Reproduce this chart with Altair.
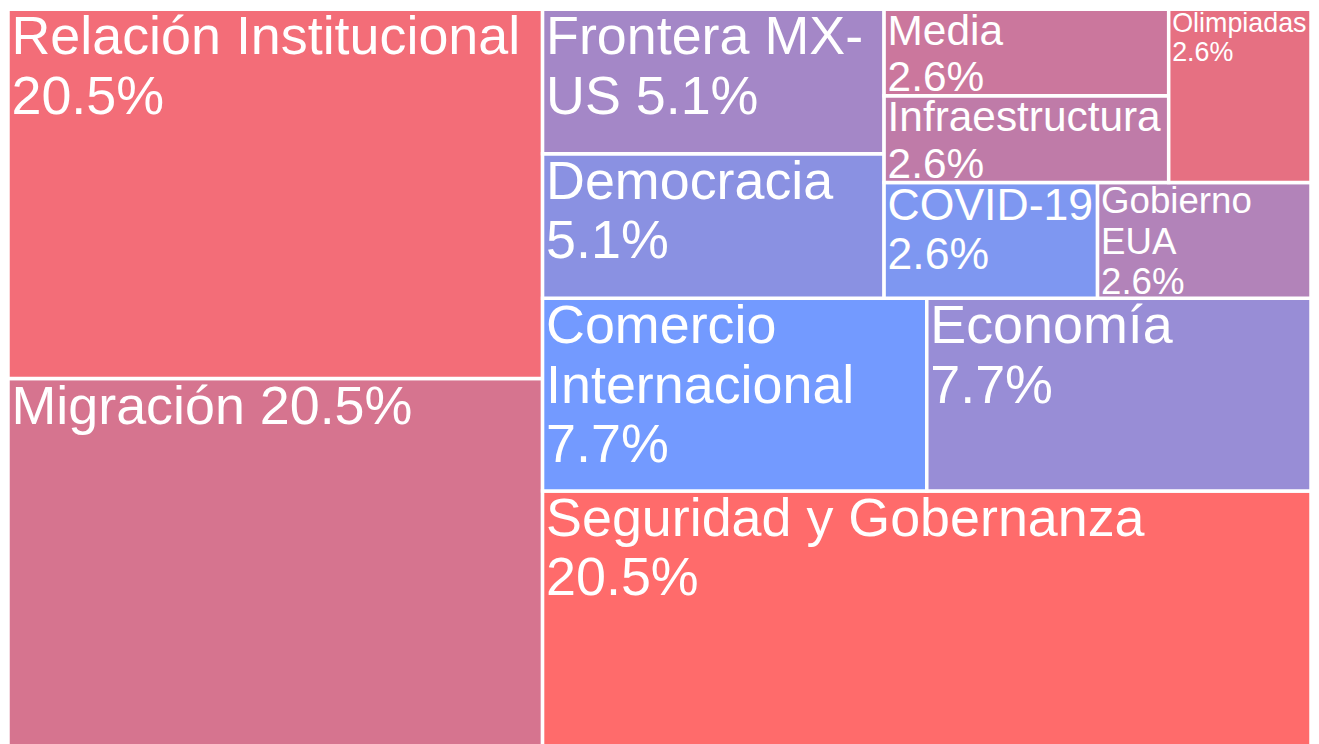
import re
import altair as alt
import pandas as pd

# ---------------- data ----------------
categories = ["Migración", "Relación Institucional", "Seguridad y Gobernanza",
              "Comercio Internacional", "Economía", "Democracia", "Frontera MX-US",
              "COVID-19", "Gobierno EUA", "Infraestructura", "Media", "Olimpiadas"]
counts = [8, 8, 8, 3, 3, 2, 2, 1, 1, 1, 1, 1]
tile_colors = ["#D6748F", "#F36D78", "#FF6B6B",
               "#739AFF", "#988DD6", "#8A91E2", "#A487C7",
               "#7E97F1", "#B283B9", "#BF7BA8", "#CB779D", "#E67082"]

# ---------------- layout settings ----------------
W, H = 1307, 741
MAX_FONT = 54
PAD_X = 3.5
LINE_H = 1.1
FIRST_BASE = 0.84
GAP = 3.5

# Arial / Liberation Sans advance widths (per em)
CW = {" ": .278, "%": .889, "-": .333, ".": .278,
      "A": .667, "C": .722, "D": .722, "E": .667, "F": .611, "G": .778, "I": .278,
      "M": .833, "O": .778, "R": .722, "S": .667, "U": .722, "V": .667, "X": .667,
      "a": .556, "b": .556, "c": .5, "d": .556, "e": .556, "f": .278, "g": .556,
      "i": .222, "l": .222, "m": .833, "n": .556, "o": .556, "p": .556, "r": .333,
      "s": .5, "t": .278, "u": .556, "y": .5, "z": .5, "ó": .556, "í": .278}


def text_em(s):
    return sum(CW.get(ch, .556) for ch in s)


def squarify(values, x0, y0, x1, y1, ratio=1.0):
    """d3-hierarchy squarified treemap (unit square, y pointing up)."""
    rects = [None] * len(values)
    n = len(values)
    i0 = i1 = 0
    value = float(sum(values))
    while i0 < n:
        dx, dy = x1 - x0, y1 - y0
        sum_v = values[i1]
        i1 += 1
        min_v = max_v = sum_v
        alpha = max(dy / dx, dx / dy) / (value * ratio)
        beta = sum_v * sum_v * alpha
        min_ratio = max(max_v / beta, beta / min_v)
        while i1 < n:
            nv = values[i1]
            sum_v += nv
            min_v, max_v = min(min_v, nv), max(max_v, nv)
            beta = sum_v * sum_v * alpha
            new_ratio = max(max_v / beta, beta / min_v)
            if new_ratio > min_ratio:
                sum_v -= nv
                break
            min_ratio = new_ratio
            i1 += 1
        row = range(i0, i1)
        if dx < dy:
            ny = y0 + dy * sum_v / value
            xx = x0
            for k in row:
                w = dx * values[k] / sum_v
                rects[k] = (xx, y0, xx + w, ny)
                xx += w
            y0 = ny
        else:
            nx = x0 + dx * sum_v / value
            yy = y0
            for k in row:
                h = dy * values[k] / sum_v
                rects[k] = (x0, yy, nx, yy + h)
                yy += h
            x0 = nx
        value -= sum_v
        i0 = i1
    return rects


def segments(text):
    """Break opportunities at spaces and after hyphens not followed by digits."""
    segs = []
    for wi, word in enumerate(text.split(" ")):
        parts = re.split(r"(?<=-)(?=[^0-9])", word)
        for pi, p in enumerate(parts):
            segs.append((p, wi > 0 and pi == 0))
    return segs


def wrap(text, size, avail):
    lines = []
    cur = ""
    for seg, space in segments(text):
        cand = cur + (" " if (space and cur) else "") + seg
        if cur == "" or text_em(cand) * size <= avail:
            cur = cand
        else:
            lines.append(cur)
            cur = seg
    lines.append(cur)
    return lines


total = sum(counts)
rects = squarify(counts, 0.0, 0.0, 1.0, 1.0)

rect_rows, text_rows = [], []
for name, cnt, col, (ux0, uy0, ux1, uy1) in zip(categories, counts, tile_colors, rects):
    x0, x1, y0, y1 = ux0 * W, ux1 * W, uy0 * H, uy1 * H
    rect_rows.append({"name": name, "x": x0, "x2": x1, "y": y0, "y2": y1, "color": col})
    label = f"{name} {cnt / total * 100:.1f}%"
    avail = (x1 - x0) - 2 * 4
    longest = max(text_em(s) for s, _ in segments(label))
    size0 = min(MAX_FONT, avail / longest)
    lines = wrap(label, size0, avail)
    size = min(size0, ((y1 - y0) - 2) / ((len(lines) - 1) * LINE_H + 0.9))
    for i, ln in enumerate(lines):
        text_rows.append({"name": name, "line": ln, "size": size,
                          "tx": x0 + PAD_X,
                          "ty": y1 - FIRST_BASE * size - i * LINE_H * size})

rect_df = pd.DataFrame(rect_rows)
text_df = pd.DataFrame(text_rows)

xs = alt.Scale(domain=[0, W], nice=False, zero=False)
ys = alt.Scale(domain=[0, H], nice=False, zero=False)

tiles = alt.Chart(rect_df).mark_rect(stroke="white", strokeWidth=GAP).encode(
    x=alt.X("x:Q", scale=xs, axis=None),
    x2="x2:Q",
    y=alt.Y("y:Q", scale=ys, axis=None),
    y2="y2:Q",
    color=alt.Color("color:N", scale=None),
)

labels = alt.Chart(text_df).mark_text(
    align="left", baseline="alphabetic", color="white", font="Liberation Sans"
).encode(
    x=alt.X("tx:Q", scale=xs, axis=None),
    y=alt.Y("ty:Q", scale=ys, axis=None),
    text="line:N",
    size=alt.Size("size:Q", scale=None),
)

chart = alt.layer(tiles, labels).properties(
    width=W, height=H, padding=0, autosize="none"
).configure_view(strokeWidth=0)

chart.save("out.html", embed_options={"renderer": "svg", "actions": False})
